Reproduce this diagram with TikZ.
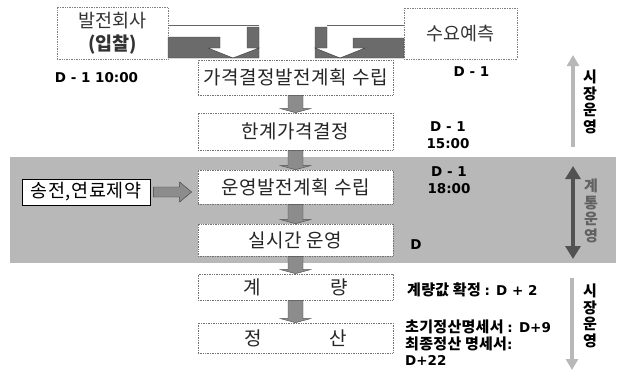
\documentclass[tikz,border=0pt]{standalone}
\usepackage{fontspec}
\setmainfont{Noto Sans CJK KR}
\newfontfamily\dvfont{DejaVu Sans}
\usetikzlibrary{arrows.meta,calc}
\newcommand\krlab{\bfseries\fontsize{15}{16.5}\selectfont\addfontfeature{LetterSpace=2}}
\newcommand\dl[1]{{\dvfont\bfseries\fontsize{13.5}{16.5}\selectfont #1}}
\newcommand\vconn[2]{%
  \path[conn] let \p1=(#1.south), \p2=(#2.north) in
    (\x1-7.5pt,\y1) -- (\x1+7.5pt,\y1) -- (\x1+7.5pt,\y2+4pt) -- (\x1+15pt,\y2+4pt)
    -- (\x1,\y2) -- (\x1-15pt,\y2+4pt) -- (\x1-7.5pt,\y2+4pt) -- cycle;}
\begin{document}
\begin{tikzpicture}[x=1pt,y=-1pt,
  mainbox/.style={draw=black!55, densely dotted, line width=0.7pt, fill=white,
    minimum width=195pt, inner sep=0pt, font=\fontsize{19}{22}\selectfont\addfontfeature{LetterSpace=3}, text=black!85},
  topbox/.style={draw=black!50, densely dotted, line width=0.7pt, fill=white,
    inner sep=0pt, font=\fontsize{18.5}{23}\selectfont, text=black!80, align=center},
  conn/.style={fill=black!45, draw=black!70, line width=0.4pt},
  shade/.style={fill=black!58, draw=black!75, line width=0.4pt},
  lab/.style={inner sep=0pt, align=left, font=\krlab},
  vtext/.style={inner sep=0pt, align=center, font=\bfseries\fontsize{15}{16.5}\selectfont}]
\useasboundingbox (0,0) rectangle (624,372);
% gray band
\fill[black!28] (10,157) rectangle (616,263);

% top boxes
\node[topbox, minimum width=111pt, minimum height=52pt] (gen) at (112.5,33) {발전회사\\{\bfseries (입찰)}};
\node[topbox, minimum width=113pt, minimum height=51pt] (dem) at (460.5,33.5) {수요예측};

% bent arrows (left)
\draw[black!60, line width=0.5pt] (168,25) -- (259,25);
\path[shade] (168,37) -- (220,37) -- (220,48) -- (208,48) -- (233,58) -- (168,58) -- cycle;
\path[shade] (247,27) -- (259,27) -- (259,58) -- (233,58) -- (259,48) -- (247,48) -- cycle;
% bent arrows (right)
\draw[black!60, line width=0.5pt] (327,25) -- (404,25);
\path[shade] (315,27) -- (327,27) -- (327,48) -- (315,48) -- (340,58) -- (315,58) -- cycle;
\path[shade] (353,38) -- (404,38) -- (404,58) -- (340,58) -- (365,48) -- (353,48) -- cycle;

% main boxes
\node[mainbox, minimum height=35pt] (b1) at (295.5,77.5) {가격결정발전계획 수립};
\node[mainbox, minimum height=37pt] (b2) at (295.5,131.5) {한계가격결정};
\node[mainbox, minimum height=34pt] (b3) at (295.5,187) {운영발전계획 수립};
\node[mainbox, minimum height=32pt] (b4) at (295.5,240) {실시간 운영};
\node[mainbox, minimum height=26pt] (b5) at (295.5,287) {계\hspace{70pt}량};
\node[mainbox, minimum height=30pt] (b6) at (295.5,338) {정\hspace{68pt}산};

\vconn{b1}{b2}
\vconn{b2}{b3}
\vconn{b3}{b4}
\vconn{b4}{b5}
\vconn{b5}{b6}

% constraint box and arrow
\node[draw=black, line width=0.6pt, fill=white, minimum width=128pt, minimum height=26pt,
  inner sep=0pt, font=\fontsize{18.5}{20}\selectfont\addfontfeature{LetterSpace=3}] (cb) at (86,192) {송전,연료제약};
\path[conn, draw=black!75] let \p1=(cb.east), \p2=(b3.west) in
  (\x1+3pt,\y1+5pt) -- (\x2-18pt,\y1+5pt) -- (\x2-18pt,\y1+10pt) -- (\x2-6pt,\y1)
  -- (\x2-18pt,\y1-10pt) -- (\x2-18pt,\y1-5pt) -- (\x1+3pt,\y1-5pt) -- cycle;

% time labels
\node[lab] (t1) at (96.5,78) {\dl{D - 1 10:00}};
\node[lab] (t2) at (471.5,72) {\dl{D - 1}};
\node[lab, align=center] (t3) at (448,135) {\dl{D - 1}\\\dl{15:00}};
\node[lab, align=center] (t4) at (449,180) {\dl{D - 1}\\\dl{18:00}};
\node[lab] (t5) at (416,245) {\dl{D}};
\node[lab, anchor=west] (t6) at (407,290) {계량값 확정 \dl{: D + 2}};
\node[lab, anchor=north west] (t7) at (405,320) {초기정산명세서 \dl{: D+9}\\최종정산 명세서\dl{:}\\\dl{D+22}};

% right side arrows
\coordinate (a1s) at (573,147);
\coordinate (a1e) at (573,55);
\draw[black!28, line width=4pt, -{Triangle[width=12pt,length=11pt]}] (a1s) -- (a1e);
\node[vtext] (v1) at (590,102) {시\\장\\운\\영};

\coordinate (a2s) at (573,166);
\coordinate (a2e) at (573,259);
\draw[black!68, line width=4pt, {Triangle[width=15pt,length=13pt]}-{Triangle[width=15pt,length=13pt]}] (a2s) -- (a2e);
\node[vtext, text=black!62] (v2) at (591,211) {계\\통\\운\\영};

\coordinate (a3s) at (572,278);
\coordinate (a3e) at (572,370);
\draw[black!28, line width=4pt, -{Triangle[width=12pt,length=11pt]}] (a3s) -- (a3e);
\node[vtext] (v3) at (590,316) {시\\장\\운\\영};
\end{tikzpicture}
\end{document}
